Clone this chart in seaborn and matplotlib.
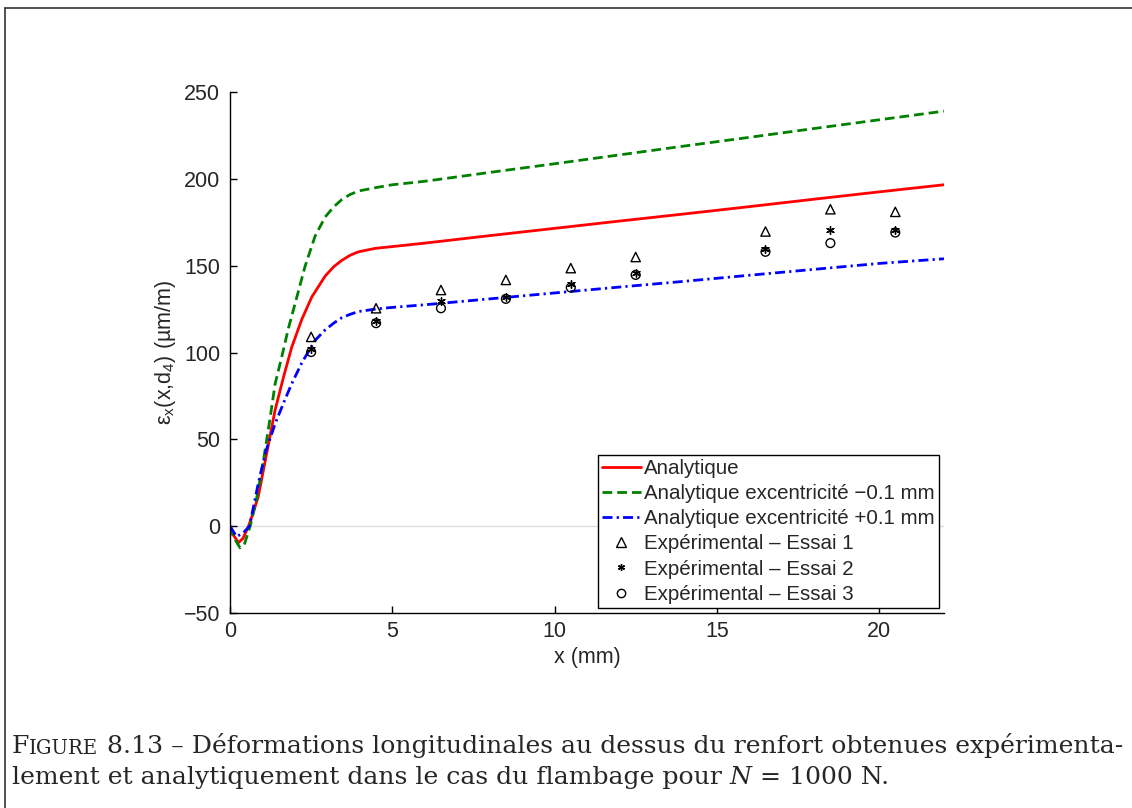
import numpy as np
import pandas as pd
import seaborn as sns
import matplotlib.pyplot as plt
from matplotlib.lines import Line2D

# analytical curves
x_ana = [0, 0.1, 0.26, 0.4, 0.57, 0.7, 0.87, 1.13, 1.39, 1.65, 1.9, 2.21, 2.52, 2.93,
         3.2, 3.44, 3.7, 3.96, 4.48, 5.0, 6.0, 8, 10, 12, 14, 16, 18, 20, 22]
y_ana = [0, -5, -9.5, -7, 0, 7, 17, 42, 67, 86, 103, 119, 132, 144,
         149.5, 153, 156, 158, 160, 161, 163, 167.3, 171.5, 175.7, 179.8, 184, 188.3, 192.5, 196.6]

x_moins = [0, 0.1, 0.31, 0.45, 0.62, 0.8, 0.98, 1.2, 1.39, 1.6, 1.8, 2.06, 2.31, 2.62,
           2.93, 3.2, 3.44, 3.7, 3.96, 4.5, 5.0, 6.0, 8, 10, 12, 14, 16, 18, 20, 22]
y_moins = [0, -6, -12.5, -10, 0, 14, 32, 58, 82, 98, 114, 132, 149.5, 167,
           178, 184, 188, 191, 193, 195, 196.6, 198.6, 203.7, 208.7, 213.8, 218.9, 223.9, 229, 234, 239]

x_plus = [0, 0.2, 0.4, 0.6, 0.87, 1.1, 1.39, 1.65, 1.9, 2.21, 2.62, 2.93, 3.2, 3.44,
          3.7, 3.96, 4.48, 5, 6, 8, 10, 12, 14, 16, 18, 20, 22]
y_plus = [0, -6, -4, 0, 24.6, 43, 59, 71, 82, 94, 107, 113, 117, 120,
          122, 123.6, 125, 126, 127.5, 130.9, 134.3, 137.7, 141, 144.5, 147.9, 151.3, 154]

# experimental points
x_exp = [2.5, 4.5, 6.5, 8.5, 10.5, 12.5, 16.5, 18.5, 20.5]
essai1 = [109, 125.5, 136, 141.8, 148.6, 155, 169.7, 182.5, 181]
essai2 = [101.9, 118.4, 129.7, 132.2, 139.3, 146, 159.7, 170.7, 170.7]
essai3 = [100.3, 116.9, 125.5, 130.9, 137.4, 144.7, 158, 163, 169.1]

labels = ['Analytique',
          'Analytique excentricité \u22120.1 mm',
          'Analytique excentricité +0.1 mm',
          'Expérimental \u2013 Essai 1',
          'Expérimental \u2013 Essai 2',
          'Expérimental \u2013 Essai 3']

sns.set_style('white')
plt.rcParams['font.family'] = ['Liberation Sans', 'DejaVu Sans']
plt.rcParams['mathtext.fontset'] = 'custom'
plt.rcParams['mathtext.rm'] = 'Liberation Sans'
plt.rcParams['mathtext.it'] = 'Liberation Sans'

fig = plt.figure(figsize=(11.32, 8.08), dpi=100)
ax = fig.add_axes([0.2032, 0.2413, 0.6307, 0.6448])

ax.axhline(0, color='#dddddd', lw=1, zorder=0)

dash_g = (0, (3.5, 1.8))
dash_b = (0, (3.6, 1.5, 0.8, 1.5))
sns.lineplot(x=x_ana, y=y_ana, ax=ax, color='#ff0000', lw=2, sort=False)
sns.lineplot(x=x_moins, y=y_moins, ax=ax, color='#008000', lw=2, sort=False,
             linestyle=dash_g)
sns.lineplot(x=x_plus, y=y_plus, ax=ax, color='#0000ff', lw=2, sort=False,
             linestyle=dash_b)

sns.scatterplot(x=x_exp, y=essai1, ax=ax, marker='^', s=45,
                facecolor='none', edgecolor='black', linewidth=1, zorder=3)
sns.scatterplot(x=x_exp, y=essai2, ax=ax, marker=(6, 2, 0), s=30,
                color='black', linewidth=1, zorder=3)
sns.scatterplot(x=x_exp, y=essai3, ax=ax, marker='o', s=40,
                facecolor='none', edgecolor='black', linewidth=1, zorder=3)

ax.set_xlim(0, 22)
ax.set_ylim(-50, 250)
ax.set_xticks([0, 5, 10, 15, 20])
ax.set_yticks([-50, 0, 50, 100, 150, 200, 250])
ax.tick_params(direction='in', length=5, width=1, labelsize=15.5, color='black',
               left=True, bottom=True)
ax.tick_params(axis='y', pad=7)
ax.tick_params(axis='x', pad=6)
for side in ['top', 'right']:
    ax.spines[side].set_visible(False)
for side in ['left', 'bottom']:
    ax.spines[side].set_color('black')
    ax.spines[side].set_linewidth(1)

ax.set_xlabel('x (mm)', fontsize=15.5, labelpad=3)
ax.set_ylabel('$\\mathrm{\u03b5_x(x{,}d_4)}$ (\u00b5m/m)', fontsize=15.5, labelpad=4)

handles = [
    Line2D([], [], color='#ff0000', lw=2),
    Line2D([], [], color='#008000', lw=2, linestyle=dash_g),
    Line2D([], [], color='#0000ff', lw=2, linestyle=dash_b),
    Line2D([], [], ls='', marker='^', ms=6.5, mfc='none', mec='black', mew=1),
    Line2D([], [], ls='', marker=(6, 2, 0), ms=5, color='black', mew=1),
    Line2D([], [], ls='', marker='o', ms=6, mfc='none', mec='black', mew=1),
]
leg = ax.legend(handles, labels, loc='lower right', fontsize=14.8, frameon=True,
                fancybox=False, framealpha=1, edgecolor='black',
                handlelength=1.9, handletextpad=0.15, labelspacing=0.3,
                borderpad=0.2, borderaxespad=0.25)
leg.get_frame().set_linewidth(1)

# caption below the chart
cax = fig.add_axes([0, 0, 1, 1], zorder=-1)
cax.axis('off')
cax.set_xlim(0, 1132)
cax.set_ylim(808, 0)
cax.plot([4.5, 4.5], [7.5, 808], color='#333333', lw=1.2)
cax.plot([4.5, 1132], [7.5, 7.5], color='#333333', lw=1.2)

serif = ['DejaVu Serif']
fs = 18.1
t1 = cax.text(12, 753, 'F', fontsize=fs, family=serif, va='baseline')
t2 = cax.annotate('IGURE', xy=(1, 0), xycoords=t1, fontsize=fs * 0.78, family=serif,
                  va='bottom')
cax.annotate(' 8.13 \u2013 Déformations longitudinales au dessus du renfort obtenues expérimenta-',
             xy=(1, 0), xycoords=t2, fontsize=fs, family=serif, va='bottom')
t4 = cax.text(12, 784, 'lement et analytiquement dans le cas du flambage pour ',
              fontsize=fs, family=serif, va='baseline')
t5 = cax.annotate('N', xy=(1, 0), xycoords=t4, fontsize=fs, family=serif,
                  style='italic', va='bottom')
cax.annotate(' = 1000 N.', xy=(1, 0), xycoords=t5, fontsize=fs, family=serif,
             va='bottom')

fig.savefig('out.png', dpi=100)
